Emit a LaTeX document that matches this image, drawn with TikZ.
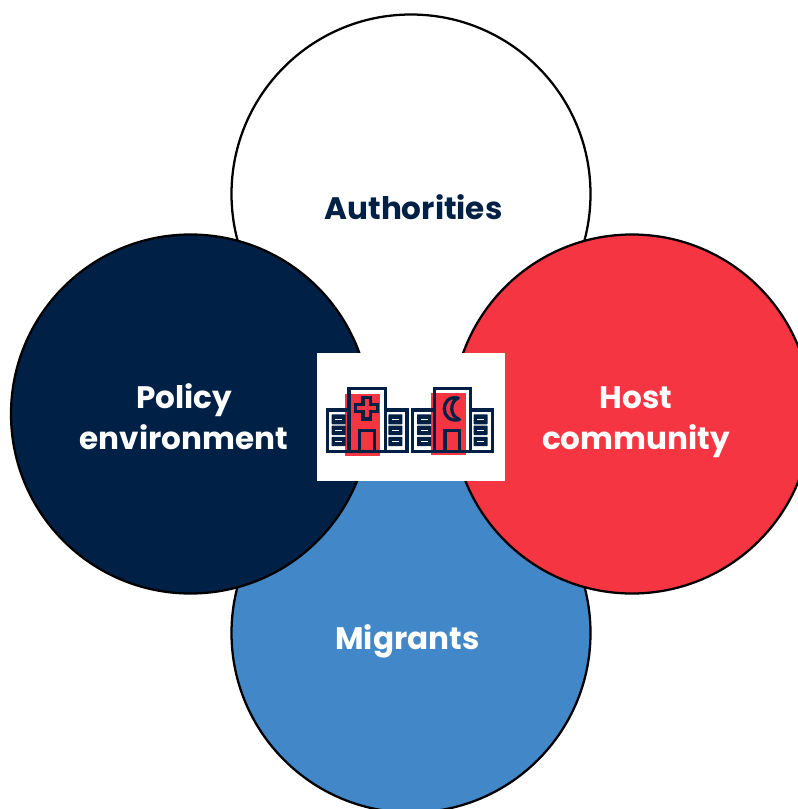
\documentclass[tikz,border=0pt]{standalone}
\usepackage{fontspec}
\setmainfont{Poppins}
\definecolor{navy}{HTML}{002045}
\definecolor{hostred}{HTML}{F53642}
\definecolor{migblue}{HTML}{4287C8}
\tikzset{
  venn/.style={draw=black,line width=1.7pt},
  lbl/.style={font=\bfseries\fontsize{23.3}{23.3}\selectfont,inner sep=0pt,anchor=base},
  ico/.style={draw=navy,line width=3.2*0.75pt,line join=miter},
  pane/.style={fill=navy,rounded corners=0.5pt},
  winbar/.style={fill=white},
}
\newcommand{\wingwin}[1]{%
  \fill[pane] (#1,414.3) rectangle ++(14,10);
  \fill[pane] (#1,425.6) rectangle ++(14,9.4);
  \fill[pane] (#1,436.8) rectangle ++(14,9.4);
  \fill[winbar] ({#1+3.5},418.6) rectangle ++(7,1.6);
  \fill[winbar] ({#1+3.5},429.6) rectangle ++(7,1.6);
  \fill[winbar] ({#1+3.5},440.8) rectangle ++(7,1.6);
}
\newcommand{\hospitalblock}{%
  \draw[ico] (327.2,410) rectangle (349,451.3);
  \draw[ico] (385.3,410) rectangle (407,451.3);
  \wingwin{331.7}
  \wingwin{388.3}
  \draw[ico] (349,451.3) -- (349,388.3) -- (385.3,388.3) -- (385.3,451.3) -- cycle;
  \draw[ico] (359.7,451.3) -- (359.7,430.3) -- (374.3,430.3) -- (374.3,451.3);
}
\begin{document}
\begin{tikzpicture}[x=0.75pt,y=-0.75pt]
  \useasboundingbox (0,0) rectangle (798,809);
  \clip (0,0) rectangle (798,809);
  \fill[white] (0,0) rectangle (798,809);
  \draw[venn,fill=white] (411,194) circle[radius=179.5];
  \draw[venn,fill=migblue] (411,633) circle[radius=179.5];
  \draw[venn,fill=navy] (190.5,414) circle[radius=179.5];
  \draw[venn,fill=hostred] (632,414) circle[radius=179.5];
  \fill[white] (317,353) rectangle (505,481);
  % left hospital
  \fill[hostred] (345,394) rectangle (380,455.7);
  \hospitalblock
  \draw[ico] (363,397.2) -- (370.4,397.2) -- (370.4,404.3) -- (377.7,404.3) -- (377.7,411.7)
    -- (370.4,411.7) -- (370.4,419) -- (363,419) -- (363,411.7) -- (355.7,411.7)
    -- (355.7,404.3) -- (363,404.3) -- cycle;
  % right hospital
  \begin{scope}[shift={(85.3,0)}]
    \fill[hostred] (345.7,393) rectangle (380.7,454.7);
    \hospitalblock
  \end{scope}
  \draw[ico,line join=round,fill=hostred] (458.3,398)
    .. controls (448,396) and (444.3,403) .. (444.3,409)
    .. controls (444.3,416) and (450,422) .. (459.5,419.5)
    .. controls (453.5,417) and (451.8,413) .. (451.8,408.5)
    .. controls (451.8,404) and (453.5,400) .. (458.3,398) -- cycle;
  % labels
  \node[lbl,text=navy] (auth) at (413.5,219.5) {Authorities};
  \node[lbl,text=white] (pol1) at (184,408) {Policy};
  \node[lbl,text=white] (pol2) at (184,449) {environment};
  \node[lbl,text=white] (host1) at (636,408) {Host};
  \node[lbl,text=white] (host2) at (636,449) {community};
  \node[lbl,text=white] (mig) at (407.5,649) {Migrants};
\end{tikzpicture}
\end{document}
